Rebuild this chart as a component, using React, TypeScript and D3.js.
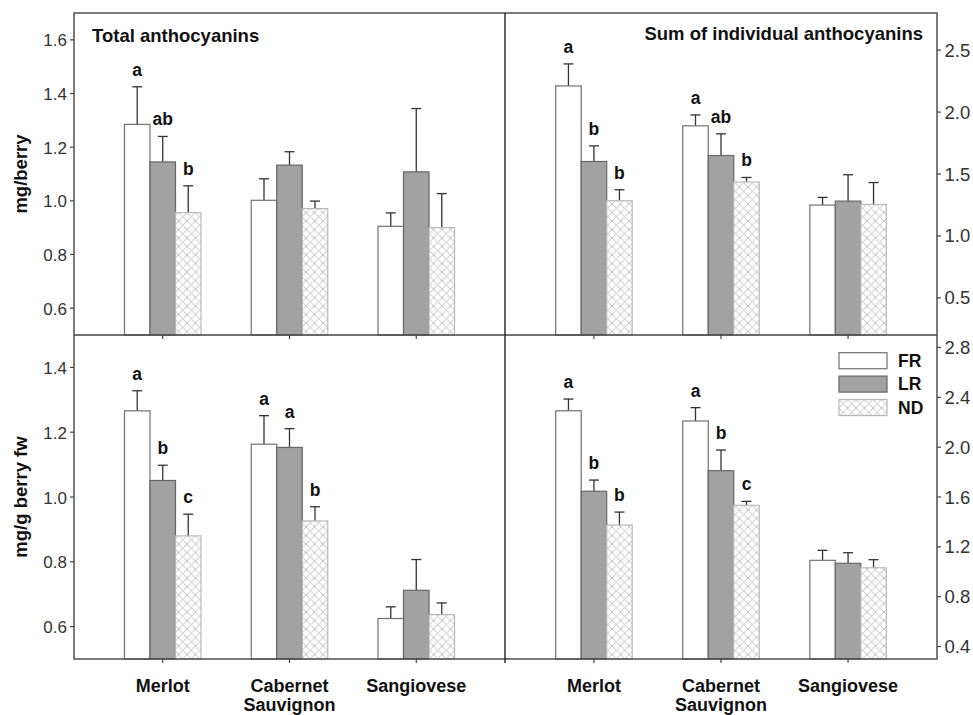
import React from "react";
import * as d3 from "d3";

const varieties = ["Merlot", "Cabernet Sauvignon", "Sangiovese"];
const treatments = ["FR", "LR", "ND"];

// mean per variety, order FR / LR / ND
const totalBerryMean = [[1.285, 1.145, 0.956], [1.002, 1.133, 0.971], [0.905, 1.108, 0.9]];
const totalBerryErr = [[0.14, 0.095, 0.1], [0.08, 0.05, 0.028], [0.05, 0.236, 0.127]];
const totalBerryLetters = [["a", "ab", "b"], ["", "", ""], ["", "", ""]];

const sumBerryMean = [[2.211, 1.601, 1.284], [1.889, 1.649, 1.435], [1.249, 1.281, 1.254]];
const sumBerryErr = [[0.178, 0.126, 0.089], [0.088, 0.175, 0.037], [0.062, 0.213, 0.177]];
const sumBerryLetters = [["a", "b", "b"], ["a", "ab", "b"], ["", "", ""]];

const totalFwMean = [[1.266, 1.051, 0.88], [1.163, 1.153, 0.926], [0.625, 0.712, 0.637]];
const totalFwErr = [[0.062, 0.047, 0.067], [0.088, 0.058, 0.044], [0.036, 0.095, 0.036]];
const totalFwLetters = [["a", "b", "c"], ["a", "a", "b"], ["", "", ""]];

const sumFwMean = [[2.292, 1.646, 1.375], [2.21, 1.811, 1.533], [1.092, 1.068, 1.032]];
const sumFwErr = [[0.094, 0.09, 0.104], [0.107, 0.166, 0.032], [0.08, 0.085, 0.065]];
const sumFwLetters = [["a", "b", "b"], ["a", "b", "c"], ["", "", ""]];

const FONT = "'Liberation Sans', Arial, sans-serif";
const L = 74, M = 505, R = 937, T = 13, MID = 335, B = 659;
const BW = 25.5;

const fills: Record<string, string> = { FR: "#ffffff", LR: "#a2a2a2", ND: "url(#hatch)" };
const strokes: Record<string, string> = { FR: "#707070", LR: "#666666", ND: "#b8b8b8" };

type PanelProps = {
  x0: number; x1: number; y0: number; y1: number;
  domain: [number, number]; ticks: number[]; side: "left" | "right";
  mean: number[][]; err: number[][]; letters: string[][];
};

function Panel({ x0, x1, y0, y1, domain, ticks, side, mean, err, letters }: PanelProps) {
  const x = d3.scalePoint<string>().domain(varieties).range([x0, x1]).padding(0.7);
  const y = d3.scaleLinear().domain(domain).range([y1, y0]);
  const fmt = d3.format(".1f");
  const ax = side === "left" ? x0 : x1;
  const dir = side === "left" ? -1 : 1;
  return (
    <g>
      {varieties.map((v, i) =>
        treatments.map((t, j) => {
          const cx = (x(v) as number) + (j - 1) * BW;
          const top = y(mean[i][j]);
          const et = y(mean[i][j] + err[i][j]);
          return (
            <g key={v + t}>
              <line x1={cx} x2={cx} y1={top} y2={et} stroke="#333" strokeWidth={1.3} />
              <line x1={cx - 5} x2={cx + 5} y1={et} y2={et} stroke="#333" strokeWidth={1.3} />
              <rect x={cx - BW / 2} y={top} width={BW} height={y1 - top}
                fill={fills[t]} stroke={strokes[t]} strokeWidth={1.2} />
              {letters[i][j] && (
                <text x={cx} y={et - 11} textAnchor="middle" fontFamily={FONT}
                  fontWeight="bold" fontSize={17.5} fill="#111">{letters[i][j]}</text>
              )}
            </g>
          );
        })
      )}
      {ticks.map((tv) => (
        <g key={tv}>
          <line x1={ax} x2={ax + dir * 4} y1={y(tv)} y2={y(tv)} stroke="#444" strokeWidth={1.2} />
          <text x={ax + dir * (side === "left" ? 7 : 7.5)} y={y(tv) + 6.5}
            textAnchor={side === "left" ? "end" : "start"}
            fontFamily={FONT} fontSize={side === "left" ? 17 : 18.5} fill="#333">{fmt(tv)}</text>
        </g>
      ))}
      {varieties.map((v) => (
        <line key={v} x1={x(v)} x2={x(v)} y1={y1} y2={y1 + 4} stroke="#444" strokeWidth={1.2} />
      ))}
    </g>
  );
}

function XLabels({ x0, x1 }: { x0: number; x1: number }) {
  const x = d3.scalePoint<string>().domain(varieties).range([x0, x1]).padding(0.7);
  return (
    <g fontFamily={FONT} fontWeight="bold" fontSize={18} fill="#111" textAnchor="middle">
      {varieties.map((v) =>
        v.split(" ").map((p, k) => (
          <text key={v + p} x={x(v)} y={692 + k * 18.5}>{p}</text>
        ))
      )}
    </g>
  );
}

export default function App() {
  return (
    <svg width={973} height={715} style={{ position: "absolute", left: 0, top: 0, background: "#fff" }}>
      <defs>
        <pattern id="hatch" width={8.5} height={8.5} patternUnits="userSpaceOnUse">
          <rect width={8.5} height={8.5} fill="#fff" />
          <path d="M-1,-1 L9.5,9.5 M9.5,-1 L-1,9.5" stroke="#bcbcbc" strokeWidth={0.9} />
        </pattern>
      </defs>
      <rect width={973} height={715} fill="#fff" />

      <Panel x0={L} x1={M} y0={T} y1={MID} domain={[0.5, 1.7]} ticks={[0.6, 0.8, 1.0, 1.2, 1.4, 1.6]}
        side="left" mean={totalBerryMean} err={totalBerryErr} letters={totalBerryLetters} />
      <Panel x0={M} x1={R} y0={T} y1={MID} domain={[0.2, 2.8]} ticks={[0.5, 1.0, 1.5, 2.0, 2.5]}
        side="right" mean={sumBerryMean} err={sumBerryErr} letters={sumBerryLetters} />
      <Panel x0={L} x1={M} y0={MID} y1={B} domain={[0.5, 1.5]} ticks={[0.6, 0.8, 1.0, 1.2, 1.4]}
        side="left" mean={totalFwMean} err={totalFwErr} letters={totalFwLetters} />
      <Panel x0={M} x1={R} y0={MID} y1={B} domain={[0.3, 2.9]} ticks={[0.4, 0.8, 1.2, 1.6, 2.0, 2.4, 2.8]}
        side="right" mean={sumFwMean} err={sumFwErr} letters={sumFwLetters} />

      {/* frame */}
      <g stroke="#444" strokeWidth={1.4} fill="none">
        <rect x={L} y={T} width={R - L} height={B - T} />
        <line x1={L} x2={R} y1={MID} y2={MID} />
        <line x1={M} x2={M} y1={T} y2={B + 4} stroke="#222" />
      </g>

      {/* panel titles */}
      <g fontFamily={FONT} fontWeight="bold" fontSize={18.5} fill="#111">
        <text x={92} y={42}>Total anthocyanins</text>
        <text x={923} y={40} textAnchor="end">Sum of individual anthocyanins</text>
      </g>

      {/* y titles */}
      <g fontFamily={FONT} fontWeight="bold" fontSize={18.5} fill="#111" textAnchor="middle">
        <text transform={`translate(27,${(T + MID) / 2}) rotate(-90)`}>mg/berry</text>
        <text transform={`translate(27,${(MID + B) / 2}) rotate(-90)`}>mg/g berry fw</text>
      </g>

      <XLabels x0={L} x1={M} />
      <XLabels x0={M} x1={R} />

      {/* legend */}
      <g fontFamily={FONT} fontWeight="bold" fontSize={17.5} fill="#111">
        {treatments.map((t, k) => (
          <g key={t} transform={`translate(839,${352.7 + k * 23.4})`}>
            <rect width={48} height={16} fill={fills[t]} stroke={strokes[t]} strokeWidth={1.2} />
            <text x={59} y={14}>{t}</text>
          </g>
        ))}
      </g>
    </svg>
  );
}
